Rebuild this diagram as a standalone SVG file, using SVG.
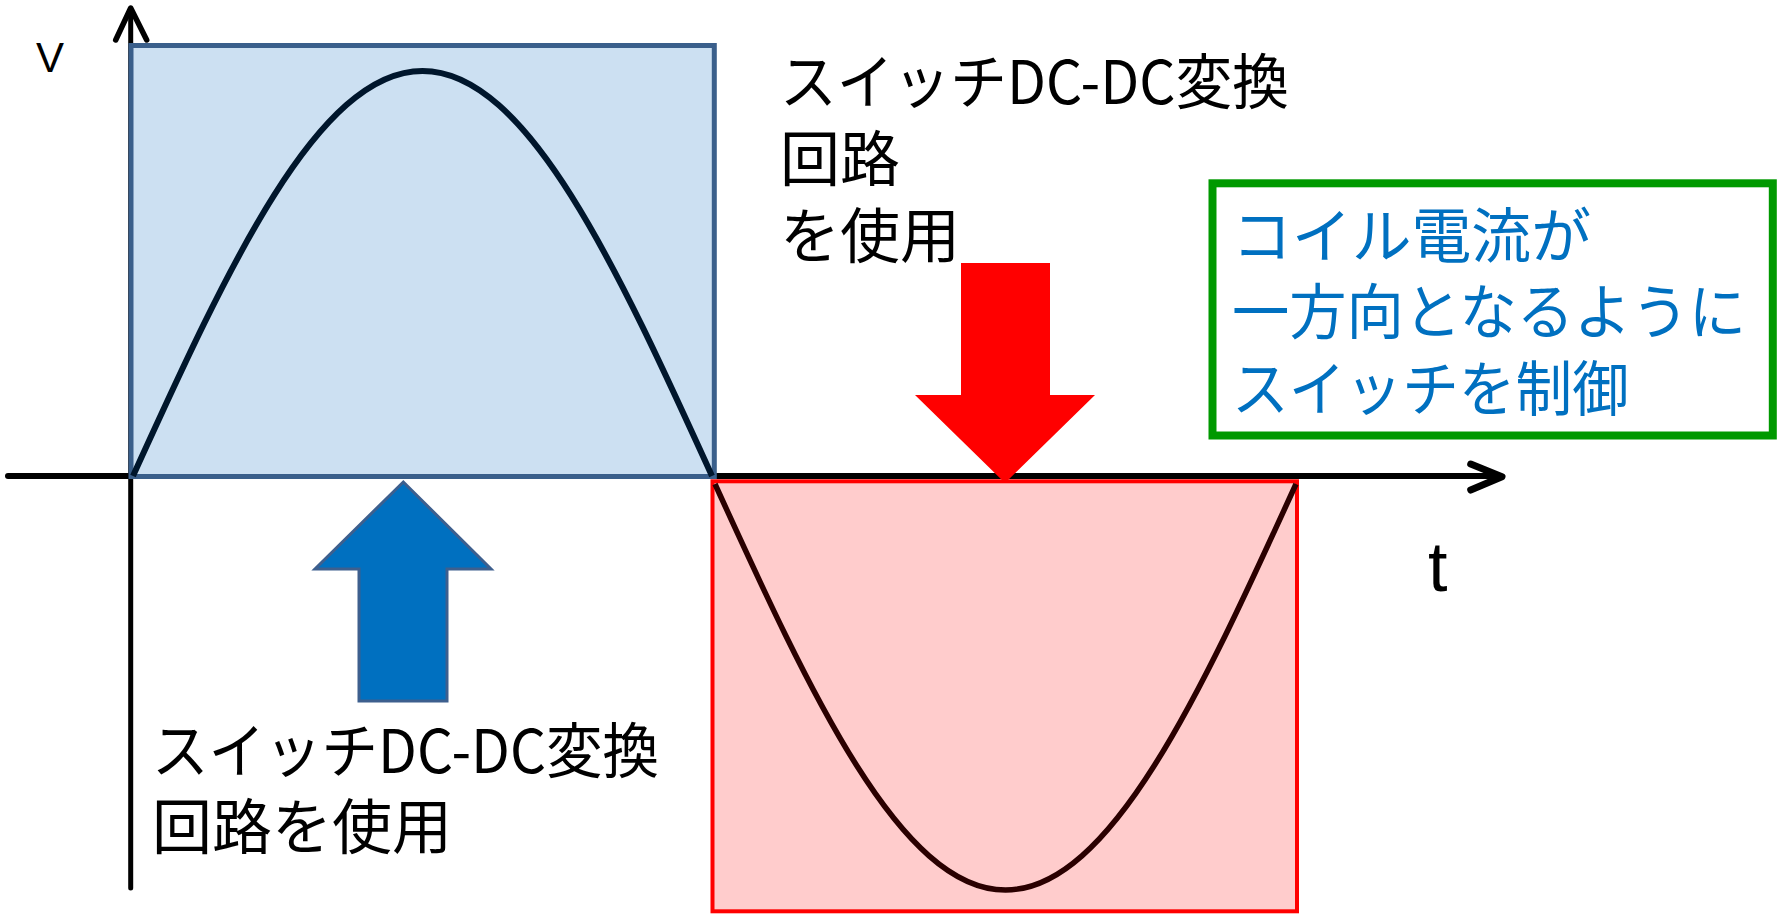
<svg xmlns="http://www.w3.org/2000/svg" width="1777" height="914" viewBox="0 0 1777 914">
<defs>
<style>
.axis{stroke:#000;fill:none;stroke-linecap:round;stroke-linejoin:round}
.jp{font-family:"Noto Sans CJK JP","Noto Sans CJK SC",sans-serif;font-size:60px;fill:#000}
.blue{fill:#0070C0}
.lat{font-family:"Liberation Sans",Arial,sans-serif;fill:#000}
</style>
</defs>
<rect width="1777" height="914" fill="#fff"/>
<g id="axes">
<line class="axis" x1="8" y1="476" x2="1499" y2="476" stroke-width="6" stroke-linecap="butt"/>
<polyline class="axis" points="1470.7,464 1502,476.7 1470.7,490" stroke-width="7"/>
<line class="axis" x1="130.7" y1="10" x2="130.7" y2="888" stroke-width="5" stroke-linecap="butt"/>
<polyline class="axis" points="115.7,40 130.7,8 146.7,40" stroke-width="5.5"/>
</g>
<g id="positive-region">
<rect x="131" y="45.5" width="583.3" height="431" fill="#CCE0F2" stroke="#3A5F8B" stroke-width="5"/>
<path d="M133,476 C227.4,268.5 317.7,71 422.5,71 C527.3,71 617.6,268.5 712,476" fill="none" stroke="#00162C" stroke-width="6"/>
</g>
<g id="negative-region">
<rect x="712.5" y="481.3" width="584.5" height="430" fill="#FFCCCC" stroke="#FF0000" stroke-width="4"/>
<path d="M715,484 C809.8,692 900.3,890 1005.5,890 C1110.7,890 1201.2,692 1296,484" fill="none" stroke="#2A0000" stroke-width="5.5"/>
</g>
<g id="blue-arrow">
<polygon points="403.3,482 491,569 447,569 447,701 359,701 359,569 315,569" fill="#0070C0" stroke="#3D5F8E" stroke-width="3"/>
</g>
<g id="red-arrow">
<polygon points="961,263 1050,263 1050,395 1095,395 1005,483 915,395 961,395" fill="#FF0000"/>
</g>
<g id="label-v">
<text class="lat" x="36" y="72" font-size="42">V</text>
</g>
<g id="label-t">
<text class="lat" x="1428" y="591" font-size="70">t</text>
</g>
<g id="label-top">
<text class="jp" x="780" y="104" textLength="509" lengthAdjust="spacingAndGlyphs">スイッチDC-DC変換</text>
<text class="jp" x="780" y="181">回路</text>
<text class="jp" x="780" y="258">を使用</text>
</g>
<g id="label-bottom">
<text class="jp" x="152" y="773" textLength="507" lengthAdjust="spacingAndGlyphs">スイッチDC-DC変換</text>
<text class="jp" x="152" y="849">回路を使用</text>
</g>
<g id="control-box">
<rect x="1212.5" y="183.3" width="560.3" height="252.2" fill="#fff" stroke="#009900" stroke-width="8"/>
<text class="jp blue" x="1232" y="258" textLength="359" lengthAdjust="spacingAndGlyphs">コイル電流が</text>
<text class="jp blue" x="1232" y="334" textLength="514" lengthAdjust="spacingAndGlyphs">一方向となるように</text>
<text class="jp blue" x="1232" y="411" textLength="397" lengthAdjust="spacingAndGlyphs">スイッチを制御</text>
</g>
</svg>
